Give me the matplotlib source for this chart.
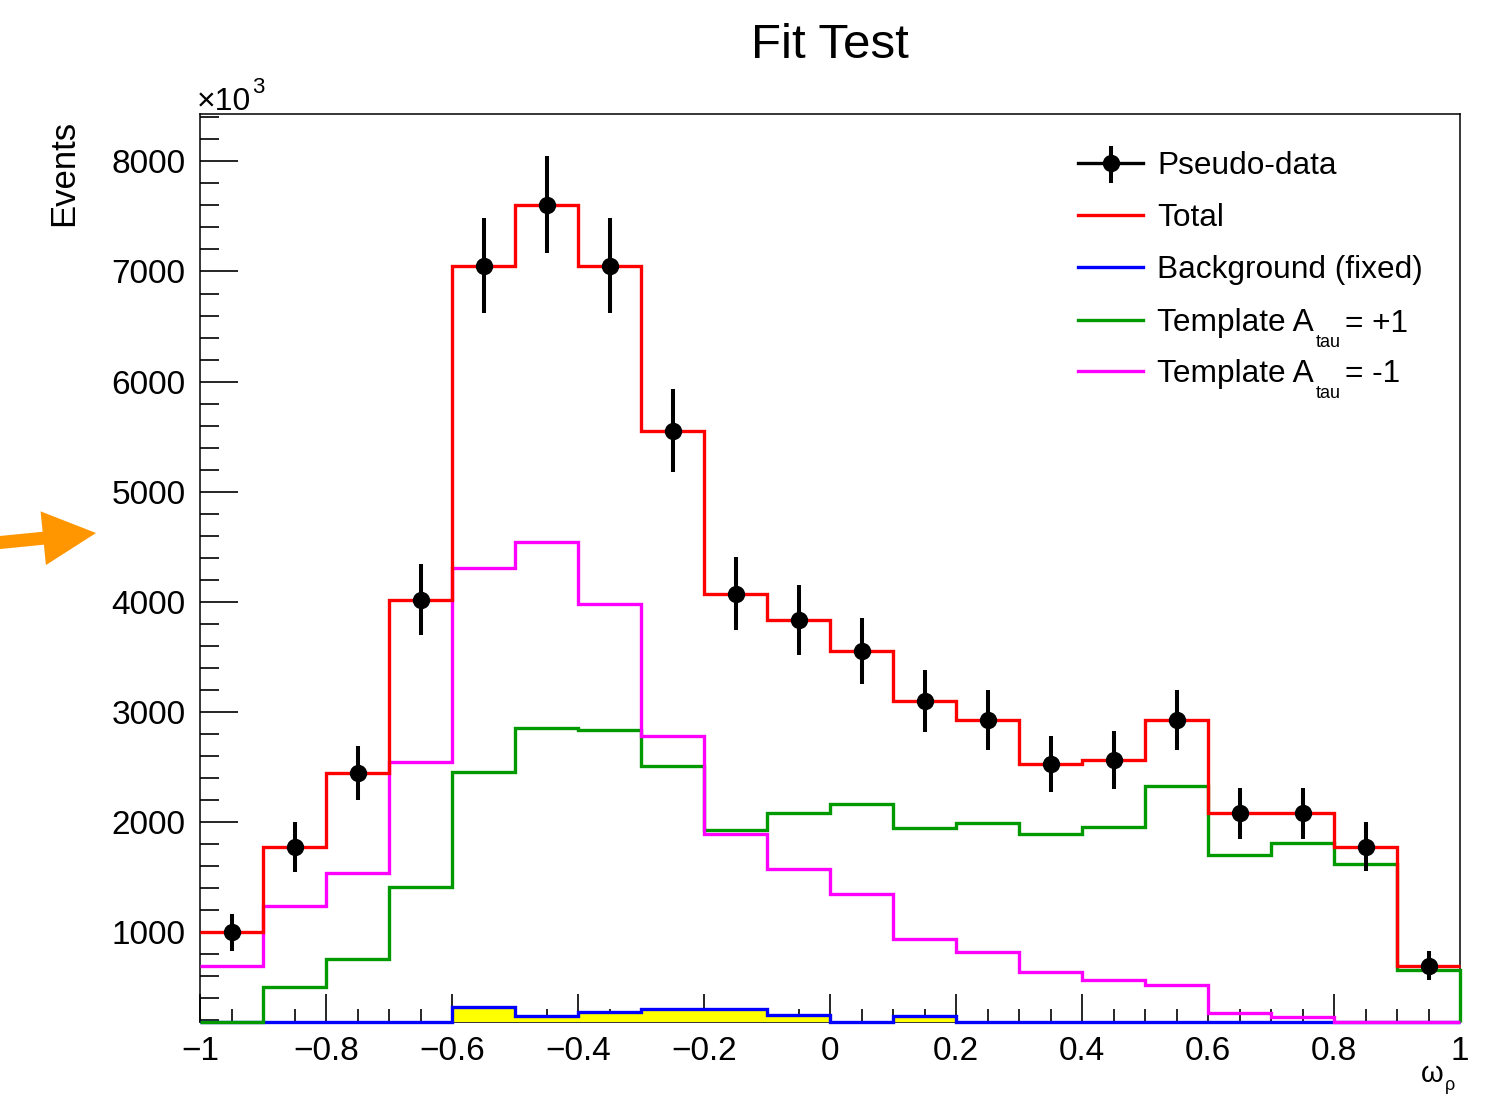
import numpy as np
import matplotlib
matplotlib.use("Agg")
import matplotlib.pyplot as plt
from matplotlib.ticker import MultipleLocator, FixedLocator, FixedFormatter
from matplotlib.lines import Line2D
from matplotlib.patches import FancyArrow

plt.rcParams['font.family'] = ['Liberation Sans', 'DejaVu Sans']

# ---------------------------------------------------------------- data
bin_edges = [-1.0, -0.9, -0.8, -0.7, -0.6, -0.5, -0.4, -0.3, -0.2, -0.1, 0.0,
             0.1, 0.2, 0.3, 0.4, 0.5, 0.6, 0.7, 0.8, 0.9, 1.0]

pseudo_data = [1000, 1775, 2448, 4020, 7053, 7607, 7053, 5554, 4074, 3837,
               3556, 3102, 2929, 2530, 2566, 2925, 2082, 2082, 1778, 695]
pseudo_err = [167, 227, 245, 320, 430, 441, 430, 375, 330, 318,
              300, 282, 273, 255, 264, 273, 232, 232, 221, 132]

total = [1000, 1775, 2448, 4020, 7053, 7607, 7053, 5554, 4074, 3837,
         3556, 3102, 2929, 2530, 2566, 2925, 2082, 2082, 1778, 695]
background = [60, 80, 110, 150, 318, 238, 278, 302, 302, 252,
              150, 238, 140, 120, 100, 90, 70, 50, 30, 20]
template_plus = [0, 507, 761, 1413, 2458, 2858, 2840, 2513, 1932, 2087,
                 2160, 1951, 1996, 1896, 1960, 2330, 1703, 1810, 1619, 658]
template_minus = [695, 1240, 1540, 2548, 4310, 4546, 3983, 2784, 1894, 1576,
                  1349, 940, 822, 640, 567, 522, 265, 229, 0, 0]

x_ticks = [-1.0, -0.8, -0.6, -0.4, -0.2, 0.0, 0.2, 0.4, 0.6, 0.8, 1.0]
x_tick_labels = ['\u22121', '\u22120.8', '\u22120.6', '\u22120.4', '\u22120.2',
                 '0', '0.2', '0.4', '0.6', '0.8', '1']
y_ticks = [1000, 2000, 3000, 4000, 5000, 6000, 7000, 8000]
y_tick_labels = ['1000', '2000', '3000', '4000', '5000', '6000', '7000', '8000']

legend_labels = ['Pseudo-data', 'Total', 'Background (fixed)']

# ---------------------------------------------------------------- figure
W, H, DPI = 1506, 1099, 100
fig = plt.figure(figsize=(W / DPI, H / DPI), dpi=DPI, facecolor='white')


def fx(px):
    return px / W


def fy(py):
    return 1.0 - py / H


ax = fig.add_axes([fx(200), fy(1022), (1460 - 200) / W, (1022 - 114) / H])
Y_MIN, Y_MAX = 185, 8430
ax.set_xlim(-1, 1)
ax.set_ylim(Y_MIN, Y_MAX)

RED, BLUE, GREEN, MAGENTA, YELLOW = '#ff0000', '#0000ff', '#009900', '#ff00ff', '#ffff00'
LW = 2.4


def floor(vals):
    # values under the frame minimum are painted on the frame bottom
    return np.maximum(np.asarray(vals, dtype=float), Y_MIN)


edges = np.asarray(bin_edges)
centers = 0.5 * (edges[:-1] + edges[1:])

ax.stairs(floor(background), edges, baseline=Y_MIN, fill=True,
          color=YELLOW, zorder=2.6)
ax.stairs(floor(background), edges, baseline=None, color=BLUE, lw=LW,
          zorder=3, clip_on=False)
ax.stairs(floor(template_plus), edges, baseline=Y_MIN, color=GREEN, lw=LW,
          zorder=4, clip_on=False)
ax.stairs(floor(template_minus), edges, baseline=None, color=MAGENTA, lw=LW,
          zorder=5, clip_on=False)
ax.stairs(floor(total), edges, baseline=None, color=RED, lw=LW,
          zorder=6, clip_on=False)
ax.errorbar(centers, pseudo_data, yerr=pseudo_err, fmt='o', color='black',
            ms=11.5, elinewidth=2.9, capsize=0, zorder=7)

# ---------------------------------------------------------------- axes styling
for sp in ax.spines.values():
    sp.set_linewidth(1.1)
    sp.set_color('black')

ax.xaxis.set_major_locator(FixedLocator(x_ticks))
ax.xaxis.set_major_formatter(FixedFormatter(x_tick_labels))
ax.xaxis.set_minor_locator(MultipleLocator(0.05))
ax.yaxis.set_major_locator(FixedLocator(y_ticks))
ax.yaxis.set_major_formatter(FixedFormatter(y_tick_labels))
ax.yaxis.set_minor_locator(MultipleLocator(200))

ax.tick_params(which='both', direction='in', top=False, right=False,
               width=1.2, color='black', labelsize=24)
ax.xaxis.set_tick_params(which='major', length=20, pad=10)
ax.xaxis.set_tick_params(which='minor', length=9.5)
ax.yaxis.set_tick_params(which='major', length=27.5, pad=10.5)
ax.yaxis.set_tick_params(which='minor', length=14)

# ---------------------------------------------------------------- titles
fig.text(fx(830), fy(58.3), 'Fit Test', fontsize=35.5, ha='center',
         va='baseline')
fig.text(fx(64), fy(120), 'Events', fontsize=25, rotation=90,
         ha='center', va='top')

renderer = fig.canvas.get_renderer()


def place_run(x_px, y_px, pieces):
    """Draw consecutive text pieces: (text, size, dy_px, gap_px)."""
    x = x_px
    for text, size, dy, gap in pieces:
        x += gap
        t = fig.text(fx(x), fy(y_px + dy), text, fontsize=size,
                     ha='left', va='baseline')
        bb = t.get_window_extent(renderer)
        x += bb.width
    return x


# exponent above the y axis
place_run(197, 110, [('\u00d710', 23, 0, 0), ('3', 16, -17, 1)])
# x axis title
place_run(1421, 1082, [('\u03c9', 21, 0, 0), ('\u03c1', 13, 8, 1)])

# ---------------------------------------------------------------- legend
row_y = [163.3, 215, 266.7, 320, 370.7]
LX0, LX1, TX = 1078, 1143, 1157
LEG_FS = 22.8


def fig_line(x0, x1, y0, y1, **kw):
    fig.add_artist(Line2D([fx(x0), fx(x1)], [fy(y0), fy(y1)],
                          transform=fig.transFigure, **kw))


fig_line(LX0, LX1, row_y[0], row_y[0], color='black', lw=LW)
fig_line(1110.5, 1110.5, 148, 181, color='black', lw=2.9)
fig.add_artist(Line2D([fx(1110.5)], [fy(row_y[0])], marker='o', ms=11.5,
                      color='black', transform=fig.transFigure))
for y, c in zip(row_y[1:], [RED, BLUE, GREEN, MAGENTA]):
    fig_line(LX0, LX1, y, y, color=c, lw=LW)

for y, lab in zip(row_y[:3], legend_labels):
    fig.text(fx(TX), fy(y + 11.2), lab, fontsize=LEG_FS, ha='left',
             va='baseline')
for y, rhs in zip(row_y[3:], ['= +1', '= -1']):
    place_run(TX, y + 11.5, [('Template A', LEG_FS, 0, 0),
                             ('tau', 13, 15.5, 2),
                             (rhs, LEG_FS, 0, 4)])

# ---------------------------------------------------------------- pointer arrow
fig.add_artist(FancyArrow(-0.05, (H - 543) / DPI, 1.01, 0.10, width=0.13,
                          head_width=0.54, head_length=0.53,
                          length_includes_head=True, color='#ff9600',
                          lw=0, transform=fig.dpi_scale_trans))

fig.savefig('out.png', dpi=DPI, facecolor='white')
